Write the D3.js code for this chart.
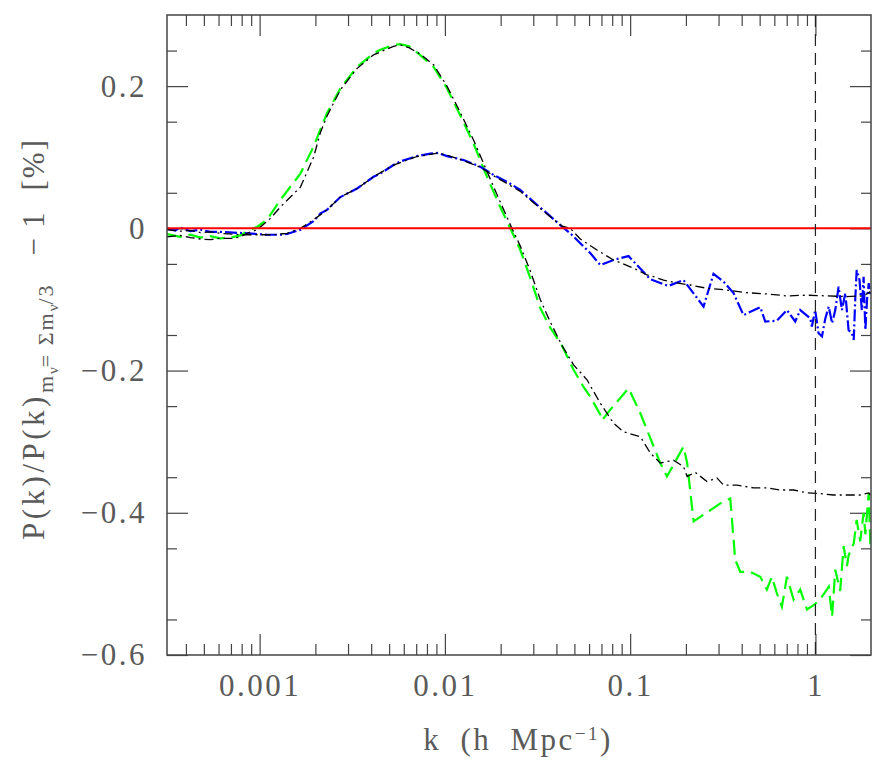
<!DOCTYPE html>
<html>
<head>
<meta charset="utf-8">
<script src="https://cdn.jsdelivr.net/npm/d3@7"></script>
<style>
  body { margin: 0; background: #fff; }
  text { font-family: "Liberation Serif", "DejaVu Serif", serif; fill: #5a5a5a; }
</style>
</head>
<body>
<svg width="886" height="766"></svg>
<script>
var width = 886,
    height = 766,
    margin = { top: 15, right: 15, bottom: 111, left: 167 }

// k values (h/Mpc) and P(k)/P(k)_ref - 1
var kGreen = [3.16e-4, 3.73e-4, 4.23e-4, 4.79e-4, 5.42e-4, 6.14e-4, 7.24e-4, 7.87e-4, 8.55e-4, 9.68e-4,
    1.096e-3, 1.294e-3, 1.66e-3, 1.955e-3, 2.31e-3, 2.73e-3, 3.36e-3, 4.12e-3, 4.48e-3, 5.28e-3,
    5.74e-3, 6.4e-3, 7.36e-3, 8.69e-3, 0.01026, 0.0121, 0.01429, 0.01687, 0.0199, 0.02255,
    0.02553, 0.0289, 0.0327, 0.0371, 0.0429, 0.0495, 0.056, 0.061, 0.069, 0.0705,
    0.0781, 0.098, 0.1135, 0.1453, 0.158, 0.194, 0.203, 0.22, 0.319, 0.347,
    0.369, 0.393, 0.445, 0.504, 0.547, 0.582, 0.619, 0.659, 0.702, 0.762,
    0.828, 0.900, 0.977, 1.06, 1.18, 1.23, 1.28, 1.36, 1.42, 1.48,
    1.51, 1.61, 1.67, 1.745, 1.82, 1.86, 1.94, 1.98]
var pGreen = [-0.008, -0.012, -0.009, -0.013, -0.011, -0.014, -0.012, -0.010, -0.004, 0.002,
    0.012, 0.040, 0.077, 0.115, 0.162, 0.197, 0.227, 0.246, 0.251, 0.258,
    0.259, 0.256, 0.2436, 0.227, 0.197, 0.159, 0.119, 0.0725, 0.030, 0.0,
    -0.0305, -0.07, -0.112, -0.14, -0.165, -0.199, -0.223, -0.237, -0.262, -0.27,
    -0.255, -0.225, -0.26, -0.33, -0.349, -0.307, -0.33, -0.412, -0.384, -0.38,
    -0.466, -0.483, -0.483, -0.49, -0.508, -0.49, -0.513, -0.532, -0.49, -0.522,
    -0.508, -0.536, -0.53, -0.522, -0.504, -0.546, -0.48, -0.51, -0.447, -0.475,
    -0.46, -0.443, -0.41, -0.44, -0.40, -0.43, -0.372, -0.447]

var kBlackA = [3.16e-4, 3.73e-4, 4.23e-4, 4.79e-4, 5.42e-4, 6.14e-4, 7.24e-4, 7.87e-4, 8.55e-4, 9.68e-4,
    1.143e-3, 1.294e-3, 1.66e-3, 1.955e-3, 2.13e-3, 2.31e-3, 2.73e-3, 3.36e-3, 4.12e-3, 5.28e-3,
    5.74e-3, 6.4e-3, 7.36e-3, 8.69e-3, 0.01026, 0.0121, 0.01429, 0.01687, 0.0199, 0.02255,
    0.02553, 0.0289, 0.0327, 0.0371, 0.0429, 0.0495, 0.0585, 0.069, 0.0813, 0.092,
    0.1135, 0.1285, 0.1453, 0.1714, 0.194, 0.203, 0.2245, 0.2596, 0.294, 0.319,
    0.3767, 0.4634, 0.547, 0.645, 0.762, 0.9, 1.06, 1.253, 1.48, 1.745, 1.94, 1.98]
var pBlackA = [-0.012, -0.010, -0.013, -0.015, -0.016, -0.014, -0.014, -0.012, -0.007, -0.002,
    0.014, 0.030, 0.058, 0.100, 0.135, 0.158, 0.195, 0.225, 0.244, 0.256,
    0.258, 0.254, 0.245, 0.230, 0.200, 0.163, 0.124, 0.080, 0.037, 0.005,
    -0.025, -0.060, -0.100, -0.132, -0.165, -0.192, -0.213, -0.246, -0.274, -0.286,
    -0.293, -0.316, -0.330, -0.326, -0.335, -0.349, -0.343, -0.356, -0.351, -0.361,
    -0.361, -0.365, -0.365, -0.368, -0.368, -0.372, -0.373, -0.375, -0.375, -0.375, -0.372, -0.375]

var kBlue = [3.16e-4, 3.5e-4, 3.73e-4, 4.23e-4, 4.79e-4, 5.42e-4, 6.14e-4, 7.24e-4, 8.55e-4, 9.68e-4,
    1.096e-3, 1.294e-3, 1.406e-3, 1.66e-3, 1.955e-3, 2.13e-3, 2.31e-3, 2.73e-3, 3.36e-3, 4.12e-3,
    4.48e-3, 5.28e-3, 5.74e-3, 7.06e-3, 8.34e-3, 9.2e-3, 0.01026, 0.01262, 0.01553, 0.01832,
    0.02163, 0.02553, 0.0301, 0.0356, 0.0429, 0.0475, 0.0538, 0.061, 0.069, 0.0813,
    0.098, 0.1285, 0.161, 0.194, 0.249, 0.2818, 0.319, 0.3614, 0.409, 0.504,
    0.536, 0.619, 0.702, 0.778, 0.828, 0.938, 0.957, 0.997, 1.04, 1.085,
    1.13, 1.18, 1.23, 1.28, 1.334, 1.39, 1.45, 1.51, 1.574, 1.61,
    1.64, 1.67, 1.73, 1.78, 1.82, 1.86, 1.90, 1.94, 1.98]
var pBlue = [0.0, -0.003, 0.001, -0.004, -0.002, -0.005, -0.005, -0.006, -0.007, -0.008,
    -0.009, -0.009, -0.008, -0.002, 0.010, 0.021, 0.026, 0.044, 0.056, 0.0725,
    0.077, 0.089, 0.094, 0.1016, 0.105, 0.106, 0.1016, 0.096, 0.0866, 0.075,
    0.0655, 0.054, 0.0374, 0.021, 0.0023, -0.007, -0.021, -0.035, -0.0516, -0.0445,
    -0.039, -0.0717, -0.081, -0.0727, -0.110, -0.064, -0.075, -0.091, -0.122, -0.111,
    -0.131, -0.130, -0.115, -0.131, -0.115, -0.1265, -0.138, -0.115, -0.1476, -0.152,
    -0.127, -0.110, -0.1335, -0.115, -0.082, -0.115, -0.091, -0.143, -0.1476, -0.157,
    -0.1008, -0.0586, -0.0727, -0.115, -0.068, -0.143, -0.100, -0.077, -0.096]

var kBlackB = [3.16e-4, 3.73e-4, 4.23e-4, 4.79e-4, 5.42e-4, 6.14e-4, 7.87e-4, 8.91e-4, 1.191e-3, 1.406e-3,
    1.66e-3, 1.955e-3, 2.31e-3, 2.73e-3, 3.36e-3, 4.12e-3, 5.28e-3, 7.06e-3, 8.34e-3, 9.2e-3,
    0.01026, 0.01262, 0.01553, 0.01832, 0.02163, 0.02553, 0.0301, 0.0356, 0.0429, 0.0475,
    0.0538, 0.0662, 0.0813, 0.1043, 0.1233, 0.1337, 0.1514, 0.1714, 0.211, 0.2596,
    0.3327, 0.4266, 0.547, 0.702, 0.9, 1.153, 1.48, 1.82, 1.98]
var pBlackB = [-0.002, -0.004, -0.003, -0.006, -0.005, -0.007, -0.009, -0.009, -0.009, -0.007,
    0.0, 0.012, 0.026, 0.044, 0.056, 0.0725, 0.089, 0.101, 0.104, 0.106,
    0.103, 0.095, 0.086, 0.074, 0.063, 0.052, 0.036, 0.020, 0.003, 0.0,
    -0.015, -0.0305, -0.0445, -0.056, -0.0656, -0.068, -0.0727, -0.076, -0.0797, -0.0843,
    -0.0867, -0.0905, -0.0923, -0.095, -0.094, -0.095, -0.096, -0.095, -0.089]

var xMajor = [0.001, 0.01, 0.1, 1]
var xMajorLabels = ["0.001", "0.01", "0.1", "1"]
var yMajor = [-0.6, -0.4, -0.2, 0, 0.2]
var yMajorLabels = ["\u22120.6", "\u22120.4", "\u22120.2", "0", "0.2"]
var kDomain = [Math.pow(10, -3.5), Math.pow(10, 0.3)]
var pDomain = [-0.6, 0.3]
var kMark = 1

var plotW = width - margin.left - margin.right,
    plotH = height - margin.top - margin.bottom

var x = d3.scaleLog().domain(kDomain).range([0, plotW])
var y = d3.scaleLinear().domain(pDomain).range([plotH, 0])

var svg = d3.select("svg")
var g = svg.append("g").attr("transform", "translate(" + margin.left + "," + margin.top + ")")

function pairs(ks, ps) {
    return ks.map(function(k, i) { return [k, ps[i]] })
}

var line = d3.line()
    .x(function(d) { return x(d[0]) })
    .y(function(d) { return y(d[1]) })

// minor ticks
var xMinor = []
for (var e = -4; e <= 0; e++) {
    for (var m = 2; m <= 9; m++) {
        var v = m * Math.pow(10, e)
        if (v > kDomain[0] && v < kDomain[1]) xMinor.push(v)
    }
}
var yMinor = d3.range(-0.55, 0.3, 0.1).map(function(v) { return Math.round(v * 100) / 100 })

function noText(a) { a.selectAll("text").remove() }

function styleAxis(a) {
    a.select(".domain").remove()
    a.selectAll("line").attr("stroke", "#444").attr("stroke-width", 1.2)
}

// bottom / top
g.append("g").attr("transform", "translate(0," + plotH + ")")
    .call(d3.axisBottom(x).tickValues(xMinor).tickSize(-11)).call(noText).call(styleAxis)
g.append("g").attr("transform", "translate(0," + plotH + ")")
    .call(d3.axisBottom(x).tickValues(xMajor).tickSize(-21).tickPadding(19)
        .tickFormat(function(d, i) { return xMajorLabels[i] }))
    .call(styleAxis)
    .selectAll("text").attr("font-size", 31).attr("letter-spacing", 2.5).attr("fill", "#5a5a5a")
g.append("g")
    .call(d3.axisTop(x).tickValues(xMinor).tickSize(-11)).call(noText).call(styleAxis)
g.append("g")
    .call(d3.axisTop(x).tickValues(xMajor).tickSize(-21)).call(noText).call(styleAxis)

// left / right
g.append("g")
    .call(d3.axisLeft(y).tickValues(yMinor).tickSize(-10)).call(noText).call(styleAxis)
g.append("g")
    .call(d3.axisLeft(y).tickValues(yMajor).tickSize(-21).tickPadding(20)
        .tickFormat(function(d, i) { return yMajorLabels[i] }))
    .call(styleAxis)
    .selectAll("text").attr("font-size", 31).attr("letter-spacing", 2.5).attr("fill", "#5a5a5a")
g.append("g").attr("transform", "translate(" + plotW + ",0)")
    .call(d3.axisRight(y).tickValues(yMinor).tickSize(-10)).call(noText).call(styleAxis)
g.append("g").attr("transform", "translate(" + plotW + ",0)")
    .call(d3.axisRight(y).tickValues(yMajor).tickSize(-21)).call(noText).call(styleAxis)

g.append("defs").append("clipPath").attr("id", "clip")
    .append("rect").attr("width", plotW).attr("height", plotH)

var plot = g.append("g").attr("clip-path", "url(#clip)")

plot.append("path").datum(pairs(kGreen, pGreen))
    .attr("d", line).attr("fill", "none")
    .attr("stroke", "#00ff00").attr("stroke-width", 2.2)
    .attr("stroke-dasharray", "15,7")

plot.append("path").datum(pairs(kBlue, pBlue))
    .attr("d", line).attr("fill", "none")
    .attr("stroke", "#0000ff").attr("stroke-width", 2.2)
    .attr("stroke-dasharray", "12,3,2,3")

plot.append("path").datum(pairs(kBlackA, pBlackA))
    .attr("d", line).attr("fill", "none")
    .attr("stroke", "#000").attr("stroke-width", 1.3)
    .attr("stroke-dasharray", "9,4,2,4")

plot.append("path").datum(pairs(kBlackB, pBlackB))
    .attr("d", line).attr("fill", "none")
    .attr("stroke", "#000").attr("stroke-width", 1.3)
    .attr("stroke-dasharray", "9,4,2,4")

plot.append("line")
    .attr("x1", 0).attr("x2", plotW)
    .attr("y1", y(0)).attr("y2", y(0))
    .attr("stroke", "#ff0000").attr("stroke-width", 2)

plot.append("line")
    .attr("x1", x(kMark)).attr("x2", x(kMark))
    .attr("y1", 0).attr("y2", plotH)
    .attr("stroke", "#222").attr("stroke-width", 1.2)
    .attr("stroke-dasharray", "12,7")

// frame
g.append("rect").attr("width", plotW).attr("height", plotH)
    .attr("fill", "none").attr("stroke", "#444").attr("stroke-width", 1.5)

// axis titles
var xt = svg.append("text")
    .attr("x", margin.left + 351).attr("y", 750)
    .attr("text-anchor", "middle").attr("font-size", 31)
    .attr("letter-spacing", 2.5).attr("word-spacing", 9)
xt.append("tspan").text("k (h Mpc")
xt.append("tspan").attr("font-size", 19).attr("baseline-shift", "55%").text("\u22121")
xt.append("tspan").text(")")

var yt = svg.append("text")
    .attr("transform", "translate(44,540) rotate(-90)")
    .attr("text-anchor", "start").attr("font-size", 31)
yt.append("tspan").attr("letter-spacing", 3.5).text("P(k)/P(k)")
yt.append("tspan").attr("font-size", 22).attr("letter-spacing", 2).attr("dy", 9).text("m")
yt.append("tspan").attr("font-size", 15).attr("dy", 5).text("\u03bd")
yt.append("tspan").attr("font-size", 22).attr("letter-spacing", 2).attr("dy", -5).text("= \u03a3m")
yt.append("tspan").attr("font-size", 15).attr("dy", 5).text("\u03bd")
yt.append("tspan").attr("font-size", 22).attr("letter-spacing", 2).attr("dy", -5).text("/3")
yt.append("tspan").attr("dy", -9).attr("dx", 28).text("\u2212")
yt.append("tspan").attr("dx", 10).text("1")
yt.append("tspan").attr("dx", 22).attr("letter-spacing", 2).text("[%]")
</script>
</body>
</html>
